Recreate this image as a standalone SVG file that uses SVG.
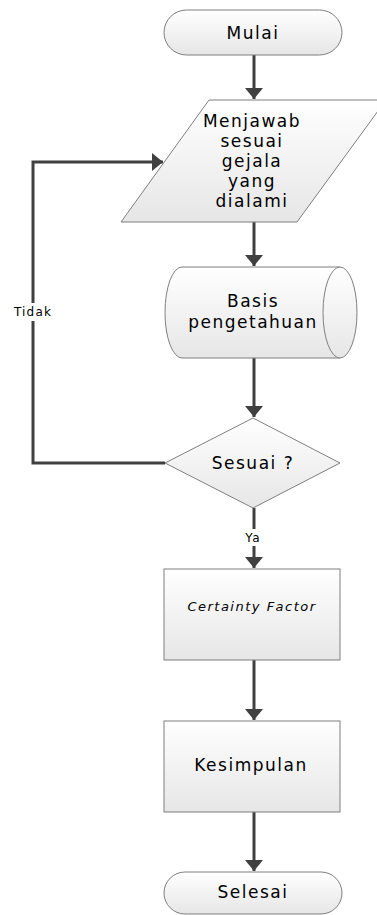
<svg xmlns="http://www.w3.org/2000/svg" width="377" height="915" viewBox="0 0 377 915">
<defs>
<linearGradient id="g" x1="0" y1="0" x2="0" y2="1">
<stop offset="0" stop-color="#ffffff"/>
<stop offset="1" stop-color="#e6e6e6"/>
</linearGradient>
<marker id="ah" markerUnits="userSpaceOnUse" markerWidth="12" markerHeight="18" refX="11" refY="9" orient="auto">
<path d="M0,0 L11,9 L0,18 Z" fill="#404040"/>
</marker>
<style>
.s{fill:url(#g);stroke:#7f7f7f;stroke-width:1}
.t{font-family:"DejaVu Sans","Noto Sans",sans-serif;font-size:17px;fill:#000;text-anchor:middle;letter-spacing:1.5px}
.c{fill:none;stroke:#404040;stroke-width:3}
.l{font-family:"DejaVu Sans","Noto Sans",sans-serif;font-size:12px;fill:#000;text-anchor:middle;letter-spacing:1.2px}
</style>
</defs>
<rect width="377" height="915" fill="#fff"/>
<g id="connectors">
<path class="c" d="M254,55 V99" marker-end="url(#ah)"/>
<path class="c" d="M254,222 V266" marker-end="url(#ah)"/>
<path class="c" d="M254,358 V417" marker-end="url(#ah)"/>
<path class="c" d="M165,463 H33 V162 H163" marker-end="url(#ah)"/>
<path class="c" d="M254,508 V568" marker-end="url(#ah)"/>
<path class="c" d="M254,660 V720" marker-end="url(#ah)"/>
<path class="c" d="M254,812 V871" marker-end="url(#ah)"/>
<rect x="10" y="303" width="46" height="18" fill="#fff"/>
<text class="l" x="33" y="316">Tidak</text>
<rect x="241" y="529" width="24" height="17" fill="#fff"/>
<text class="l" x="253" y="542">Ya</text>
</g>
<g id="mulai">
<rect class="s" x="164" y="10" width="178" height="45" rx="22.5"/>
<text class="t" x="253" y="39">Mulai</text>
</g>
<g id="menjawab">
<polygon class="s" points="209,100 386,100 297,222 121,222"/>
<text class="t" x="252" y="127">Menjawab</text>
<text class="t" x="252" y="147">sesuai</text>
<text class="t" x="252" y="167">gejala</text>
<text class="t" x="252" y="187">yang</text>
<text class="t" x="252" y="207">dialami</text>
</g>
<g id="basis">
<path class="s" d="M182,267 L340,267 A17,45.5 0 0 1 340,358 L182,358 A17,45.5 0 0 1 182,267 Z"/>
<path class="s" d="M340,267 A17,45.5 0 0 0 340,358" fill="none"/>
<text class="t" x="253" y="307">Basis</text>
<text class="t" x="253" y="328">pengetahuan</text>
</g>
<g id="sesuai">
<polygon class="s" points="253,418 340,463 253,508 165,463"/>
<text class="t" x="253" y="469">Sesuai ?</text>
</g>
<g id="cf">
<rect class="s" x="164" y="569" width="176" height="91"/>
<text class="t" x="252" y="611" style="font-size:13px;font-style:italic;letter-spacing:1.5px">Certainty Factor</text>
</g>
<g id="kesimpulan">
<rect class="s" x="164" y="721" width="176" height="91"/>
<text class="t" x="251" y="771">Kesimpulan</text>
</g>
<g id="selesai">
<rect class="s" x="164" y="872" width="178" height="42" rx="21"/>
<text class="t" x="253" y="898">Selesai</text>
</g>
</svg>
